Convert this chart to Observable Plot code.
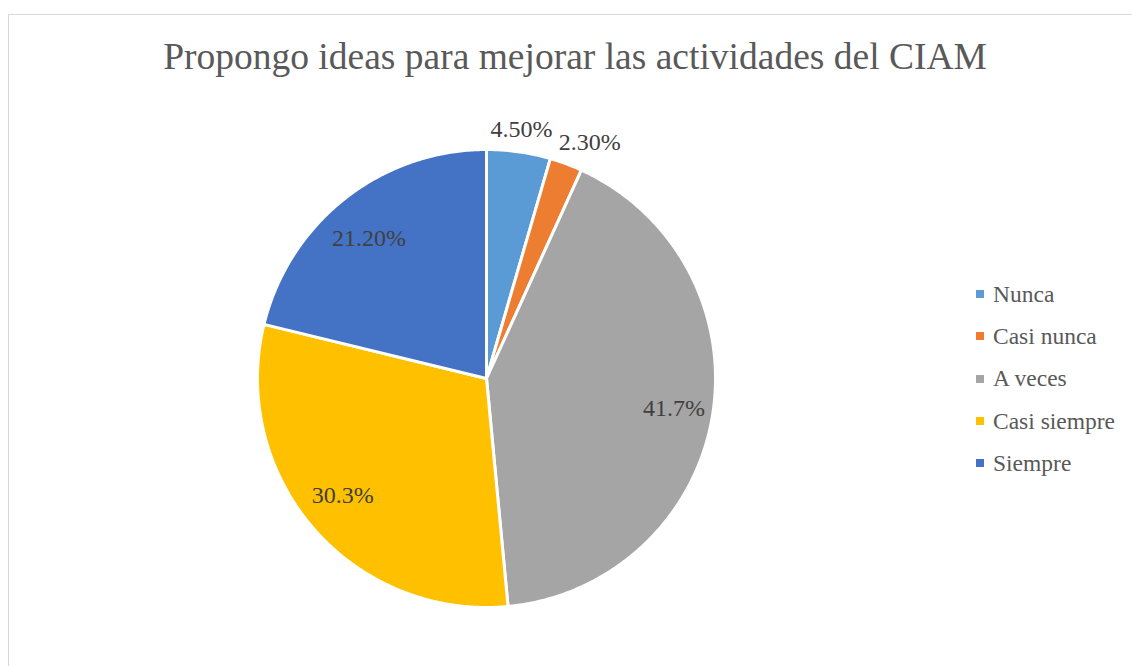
<!DOCTYPE html>
<html>
<head>
<meta charset="utf-8">
<script src="https://cdn.jsdelivr.net/npm/d3@7"></script>
<script src="https://cdn.jsdelivr.net/npm/@observablehq/plot@0.6"></script>
<style>
  body { margin: 0; background: #fff; }
  #wrap { position: relative; width: 1132px; height: 666px; overflow: hidden; background: #fff; }
  #frame { position: absolute; left: 8px; top: 14px; width: 1300px; height: 900px;
           border-left: 1.5px solid #d9d9d9; border-top: 1.5px solid #d9d9d9; box-sizing: border-box; }
  #title { position: absolute; left: 0; top: 35px; width: 1150px; text-align: center;
           font-family: "Liberation Serif", "Times New Roman", serif; font-size: 37.5px; color: #595959;
           white-space: nowrap; }
  #chart { position: absolute; left: 0; top: 0; }
  #legend { position: absolute; left: 976px; top: 273px; }
  #legend .lg { margin: 0 !important; min-height: 0 !important; }
  #legend .lg-swatch { height: 42.3px; margin: 0 !important; padding: 0 !important;
                       display: flex; align-items: center; }
  #legend .lg-swatch svg { margin-right: 9px !important; }
</style>
</head>
<body>
<div id="wrap">
  <div id="frame"></div>
  <div id="chart"></div>
  <div id="title">Propongo ideas para mejorar las actividades del CIAM</div>
  <div id="legend"></div>
</div>
<script>
const categories = ["Nunca", "Casi nunca", "A veces", "Casi siempre", "Siempre"];
const values = [4.5, 2.3, 41.7, 30.3, 21.2];
const labels = ["4.50%", "2.30%", "41.7%", "30.3%", "21.20%"];
const colors = ["#5B9BD5", "#ED7D31", "#A5A5A5", "#FFC000", "#4472C4"];

// pie geometry (unit radius, start at top, clockwise)
const total = d3.sum(values);
let acc = 0;
const slices = values.map((v, i) => {
  const a0 = acc / total * 2 * Math.PI;
  acc += v;
  const a1 = acc / total * 2 * Math.PI;
  return {cat: categories[i], label: labels[i], value: v, a0, a1, mid: (a0 + a1) / 2};
});
const pts = [];
for (const s of slices) {
  pts.push({cat: s.cat, x: 0, y: 0});
  const n = Math.max(2, Math.ceil((s.a1 - s.a0) / (Math.PI / 360)));
  for (let k = 0; k <= n; k++) {
    const a = s.a0 + (s.a1 - s.a0) * k / n;
    pts.push({cat: s.cat, x: Math.sin(a), y: Math.cos(a)});
  }
}
const labelPos = slices.map(s => {
  const sx = Math.sin(s.mid), cy = Math.cos(s.mid);
  if (s.value < 5) return {label: s.label, x: 1.44 * sx - 0.05, y: 1.10 * cy};
  return {label: s.label, x: 0.83 * sx, y: 0.78 * cy};
});

const R = 229, CX = 486, CY = 378, W = 1132, H = 666;
const chart = Plot.plot({
  width: W, height: H, margin: 0,
  x: {domain: [-CX / R, (W - CX) / R], axis: null},
  y: {domain: [-(H - CY) / R, CY / R], axis: null},
  color: {domain: categories, range: colors},
  style: {background: "transparent"},
  marks: [
    Plot.line(pts, {x: "x", y: "y", z: "cat", fill: "cat", stroke: "white", strokeWidth: 3,
                    strokeLinejoin: "round", curve: "linear-closed"}),
    Plot.text(labelPos, {x: "x", y: "y", text: "label", fontSize: 24,
                         fontFamily: "Liberation Serif", fill: "#404040"})
  ]
});
document.getElementById("chart").appendChild(chart);

const legend = Plot.legend({
  color: {domain: categories, range: colors},
  legend: "swatches", columns: 1, swatchSize: 8, className: "lg",
  style: {fontFamily: "Liberation Serif", fontSize: "23.5px", color: "#595959"}
});
document.getElementById("legend").appendChild(legend);
</script>
</body>
</html>
